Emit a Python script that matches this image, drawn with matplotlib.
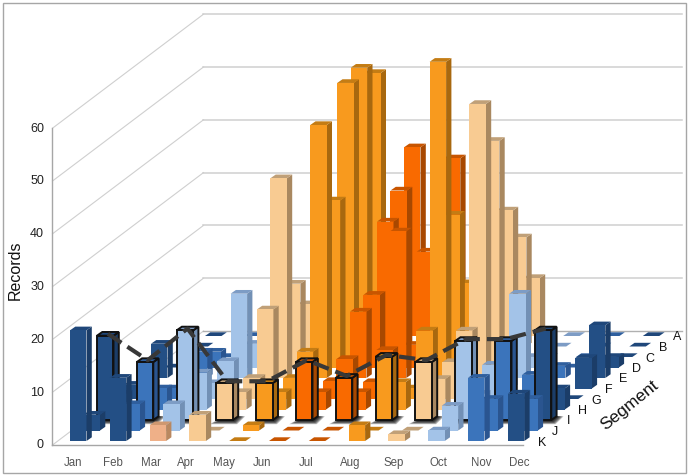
import matplotlib
matplotlib.use("Agg")
import matplotlib.pyplot as plt
from matplotlib.patches import Polygon, Rectangle

plt.rcParams['font.family'] = ['Liberation Sans', 'DejaVu Sans']

months = ['Jan','Feb','Mar','Apr','May','Jun','Jul','Aug','Sep','Oct','Nov','Dec']
segments = ['K','J','I','H','G','F','E','D','C','B','A']
month_label_x = [73,113,151,186,224,262,306,350,394,438,481,519]

# records per month, front row (K) to back row (A)
jan = [21,3,16,3,2.7,1,6.5,0,0,0,0]
feb = [12,5,11,4,2,1,5,3,0,0,0]
mar = [3,5,17,7,3,5.2,16,4.5,0,0,0]
apr = [5,0,7,3.3,4,15,37.9,15.9,10,6,5]
may = [0,1,7,3.3,4,7,48,31.7,52,52.9,49.9]
jun = [0,0,11,3.3,3.4,5.6,12.6,13.8,25.7,29.6,35.8]
jul = [0,0,8,3.3,3.2,7.3,27.8,4.3,20,12,33.7]
aug = [3,0,12,5.2,2,11,60,29,14,8,5]
sep = [1.3,0,11,5.8,7,11,52,43,27.8,20.7,11]
oct_ = [2,4.7,15,3,6.5,3,16,2,0,0,0]
nov = [12,6,15,3,4.6,2,2.3,0,0,0,0]
dec = [9,6,17,4,0,5.8,10,2,0,0,0]
values = [jan,feb,mar,apr,may,jun,jul,aug,sep,oct_,nov,dec]

# front, side, top
palette = {
    'dark': ('#234f85','#1b3d68','#1f477a'),
    'mid': ('#3b74bb','#2a5590','#2f5f9e'),
    'light': ('#a3c3e8','#7290b5','#7d9cc5'),
    'pale': ('#f8cb92','#a98860','#c0a078'),
    'orange': ('#f89a1e','#a8680f','#c47c14'),
    'hot': ('#f96a00','#a84800','#c85500'),
    'salmon': ('#efb088','#b98860','#cf9870'),
}
month_colors = ['dark','mid','light','pale','orange','hot','hot','orange','pale','light','mid','dark']
special = {(1,0):'dark', (2,0):'salmon', (11,1):'mid'}

line_row = 2
ticks = [0,10,20,30,40,50,60]

# oblique projection, pixels of the picture
X0, XM, XR = 70, 39.8, 13.5
Y0, YR, YV = 441, 10.5, 5.27
W, DX, DY = 16.5, 5.3, 3.7

def px(m, r):
    return X0 + XM*m + XR*r

def py(r, v=0):
    return Y0 - YR*r - YV*v

fig = plt.figure(figsize=(6.91,4.76), dpi=100)
ax = fig.add_axes([0,0,1,1])
ax.set_xlim(0,691)
ax.set_ylim(476,0)
ax.axis('off')

ax.add_patch(Rectangle((3,2.5),683.5,470.5,fill=False,ec='#a6a6a6',lw=1))

# walls
wall_dx, wall_dy, wall_w = 151, 114, 479
grid = '#cfcfcf'
for t in ticks:
    y = 445 - t*52.8/10
    ax.plot([52.5,52.5+wall_dx],[y,y-wall_dy],color=grid,lw=0.8,zorder=1)
    if t > 0:
        ax.plot([52.5+wall_dx,52.5+wall_dx+wall_w],[y-wall_dy,y-wall_dy],color=grid,lw=1.1,zorder=1)
    ax.text(44,y+0.5,str(t),ha='right',va='center',fontsize=9,color='#222222')
ax.plot([52.5+wall_dx,52.5+wall_dx+wall_w],[445-wall_dy,445-wall_dy],color='#b0b0b0',lw=1,zorder=1)
ax.plot([52.5,52.5],[128,445],color='#a6a6a6',lw=1,zorder=1)
ax.plot([52.5,523],[445,445],color='#a6a6a6',lw=1,zorder=1)

def draw_bar(m, r, v, name, outline=False):
    front, side, top = palette[name]
    x = px(m, r)
    y0 = py(r)
    y1 = py(r, v)
    z = 10 + (10-r)*2 + m*0.01
    if outline:
        # soft shadow on the floor
        for k in range(6):
            s = 7 - k
            ax.add_patch(Polygon([(x-s,y0+s*0.6),(x+W+s*0.6,y0+s*0.6),(x+W+DX+s,y0-DY),(x+W,y0-DY)],
                                 closed=True,fc='black',ec='none',alpha=0.25,zorder=z-0.5))
    ec = '#111111' if outline else 'none'
    lw = 1.4 if outline else 0
    ax.add_patch(Polygon([(x+W,y0),(x+W+DX,y0-DY),(x+W+DX,y1-DY),(x+W,y1)],closed=True,fc=side,ec=ec,lw=lw,zorder=z))
    ax.add_patch(Polygon([(x,y1),(x+W,y1),(x+W+DX,y1-DY),(x+DX,y1-DY)],closed=True,fc=top,ec=ec,lw=lw,zorder=z))
    if v > 0:
        ax.add_patch(Polygon([(x,y0),(x+W,y0),(x+W,y1),(x,y1)],closed=True,fc=front,ec=ec,lw=lw,zorder=z))

for m, row in enumerate(values):
    for r, v in enumerate(row):
        name = special.get((m,r), month_colors[m])
        draw_bar(m, r, v, name, outline=(r == line_row))

line_x = [px(m,line_row)+W/2+DX/2 for m in range(12)]
line_y = [py(line_row,values[m][line_row])-DY/2 for m in range(12)]
ax.plot(line_x,line_y,color='#383838',lw=3,dashes=(3.9,1.7),zorder=60)

for name, x in zip(months,month_label_x):
    ax.text(x,463,name,ha='center',va='center',fontsize=8.3,color='#555555')
for r, name in enumerate(segments):
    ax.text(px(11,r)+34,py(r)+1.5,name,ha='center',va='center',fontsize=9,color='#111111')

ax.text(15,270,'Records',rotation=90,ha='center',va='center',fontsize=11.5,color='#111111')
ax.text(629,405,'Segment',rotation=39,ha='center',va='center',fontsize=12.5,color='#111111')

fig.savefig('out.png',dpi=100)
